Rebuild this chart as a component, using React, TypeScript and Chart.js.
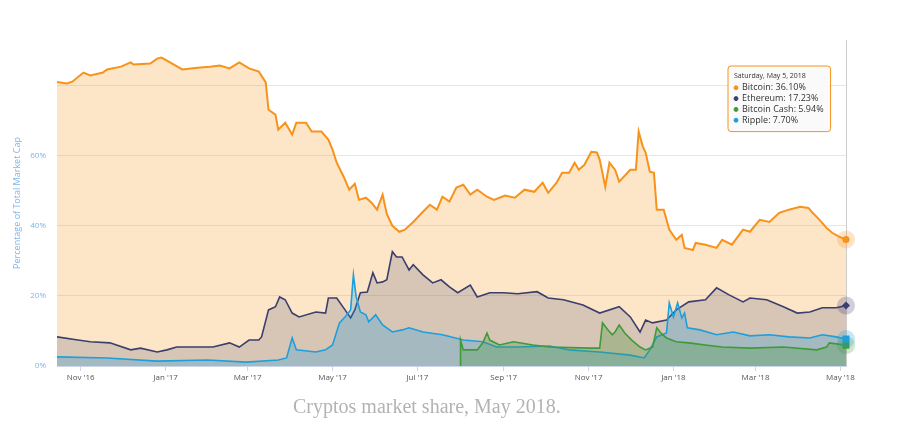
import React, { useEffect, useRef } from "react";
import { Chart, registerables, Tooltip } from "chart.js";

Chart.register(...registerables);

// ---------- data ----------
const seriesNames = ["Bitcoin", "Ethereum", "Bitcoin Cash", "Ripple"];

const btcDates = ['2016-10-15','2016-10-22','2016-10-26','2016-11-03','2016-11-08','2016-11-17','2016-11-20','2016-11-30','2016-12-07','2016-12-09','2016-12-21','2016-12-26','2016-12-29','2017-01-03','2017-01-07','2017-01-13','2017-01-24','2017-02-02','2017-02-09','2017-02-16','2017-02-23','2017-03-02','2017-03-09','2017-03-14','2017-03-16','2017-03-21','2017-03-23','2017-03-28','2017-04-02','2017-04-05','2017-04-12','2017-04-16','2017-04-23','2017-04-28','2017-05-01','2017-05-04','2017-05-09','2017-05-13','2017-05-17','2017-05-20','2017-05-25','2017-05-29','2017-06-02','2017-06-06','2017-06-09','2017-06-13','2017-06-18','2017-06-22','2017-06-28','2017-07-05','2017-07-10','2017-07-15','2017-07-19','2017-07-24','2017-07-29','2017-08-03','2017-08-08','2017-08-13','2017-08-20','2017-08-25','2017-09-02','2017-09-09','2017-09-16','2017-09-23','2017-09-29','2017-10-03','2017-10-09','2017-10-13','2017-10-18','2017-10-22','2017-10-25','2017-10-29','2017-11-03','2017-11-07','2017-11-09','2017-11-13','2017-11-16','2017-11-20','2017-11-23','2017-12-01','2017-12-05','2017-12-07','2017-12-10','2017-12-12','2017-12-15','2017-12-18','2017-12-20','2017-12-25','2017-12-29','2018-01-03','2018-01-07','2018-01-09','2018-01-15','2018-01-17','2018-01-24','2018-02-01','2018-02-05','2018-02-12','2018-02-20','2018-02-25','2018-03-04','2018-03-11','2018-03-18','2018-03-25','2018-04-02','2018-04-08','2018-04-11','2018-04-16','2018-04-21','2018-04-25','2018-04-30','2018-05-05'];
const btcShare = [81.0,80.6,81.1,83.7,82.9,83.7,84.6,85.4,86.6,86.0,86.3,87.7,88.0,86.9,86.0,84.6,85.1,85.4,85.7,84.9,86.6,84.9,84.0,80.9,73.1,71.7,67.4,69.4,66.0,69.4,69.4,66.9,66.9,64.6,61.7,58.0,54.0,50.3,52.0,47.4,48.0,46.6,44.6,48.9,43.4,40.0,38.3,38.9,41.1,44.0,46.0,44.6,48.3,46.9,50.9,51.7,48.9,50.3,48.3,47.4,48.6,48.0,50.3,49.7,52.3,49.4,52.3,55.1,55.1,58.0,56.0,57.4,61.1,60.9,58.9,51.1,58.0,56.0,52.6,56.0,56.0,66.9,62.6,60.9,55.4,55.1,44.6,44.6,38.9,36.0,37.4,33.7,33.1,35.1,34.6,33.7,36.0,34.6,38.9,38.3,41.7,41.1,43.7,44.6,45.4,45.1,43.7,41.7,39.4,38.0,36.9,36.10];

const ethDates = ['2016-10-15','2016-10-30','2016-11-08','2016-11-22','2016-12-07','2016-12-14','2016-12-26','2017-01-02','2017-01-09','2017-01-18','2017-02-04','2017-02-16','2017-02-23','2017-03-02','2017-03-09','2017-03-11','2017-03-16','2017-03-21','2017-03-24','2017-03-28','2017-04-02','2017-04-07','2017-04-19','2017-04-26','2017-04-28','2017-05-04','2017-05-10','2017-05-14','2017-05-17','2017-05-21','2017-05-26','2017-05-30','2017-06-02','2017-06-06','2017-06-09','2017-06-13','2017-06-16','2017-06-20','2017-06-25','2017-06-28','2017-07-05','2017-07-12','2017-07-18','2017-07-24','2017-07-30','2017-08-08','2017-08-13','2017-08-22','2017-09-01','2017-09-11','2017-09-25','2017-10-03','2017-10-14','2017-10-28','2017-11-09','2017-11-23','2017-12-01','2017-12-08','2017-12-12','2017-12-17','2017-12-27','2018-01-03','2018-01-12','2018-01-24','2018-02-01','2018-02-10','2018-02-20','2018-02-25','2018-03-09','2018-03-21','2018-03-31','2018-04-09','2018-04-18','2018-04-28','2018-05-05'];
const ethShare = [8.3,7.4,6.9,6.6,4.6,5.1,4.0,4.6,5.4,5.4,5.4,6.6,5.4,7.4,7.4,8.3,16.0,16.9,19.7,18.9,15.1,14.0,15.4,15.1,19.4,19.4,16.0,13.7,16.0,20.9,21.1,26.6,23.7,24.0,24.6,32.6,31.1,31.1,27.4,28.9,26.0,23.7,24.6,22.6,20.9,23.1,19.7,20.9,20.9,20.6,21.2,19.4,18.9,17.4,15.1,16.9,14.0,9.7,13.1,12.3,13.1,16.0,18.3,18.9,22.3,20.3,18.3,19.4,18.9,16.9,15.1,15.4,16.6,16.6,17.23];

const bchDates = ['2017-08-01','2017-08-01','2017-08-03','2017-08-13','2017-08-17','2017-08-20','2017-08-22','2017-08-29','2017-09-08','2017-09-22','2017-10-04','2017-11-02','2017-11-09','2017-11-11','2017-11-15','2017-11-18','2017-11-20','2017-11-23','2017-11-27','2017-12-02','2017-12-08','2017-12-12','2017-12-17','2017-12-20','2017-12-23','2017-12-27','2018-01-03','2018-01-12','2018-01-24','2018-02-05','2018-02-25','2018-03-21','2018-04-14','2018-04-21','2018-04-23','2018-05-05'];
const bchShare = [0,7.4,4.6,4.6,6.6,9.4,7.4,6.0,6.9,6.0,5.4,5.1,5.1,12.3,10.3,8.9,9.7,11.7,9.4,7.4,5.4,4.6,5.4,10.9,9.4,8.0,6.9,6.6,6.0,5.4,5.1,5.4,4.6,5.4,6.6,5.94];

const xrpDates = ['2016-10-15','2016-11-20','2016-12-26','2017-01-31','2017-02-28','2017-03-23','2017-03-29','2017-04-02','2017-04-05','2017-04-19','2017-04-26','2017-05-01','2017-05-06','2017-05-10','2017-05-14','2017-05-16','2017-05-18','2017-05-21','2017-05-25','2017-05-27','2017-06-01','2017-06-06','2017-06-13','2017-06-20','2017-06-25','2017-07-05','2017-07-19','2017-08-03','2017-08-17','2017-08-27','2017-09-11','2017-10-04','2017-10-18','2017-11-09','2017-12-01','2017-12-11','2017-12-15','2017-12-20','2017-12-27','2017-12-29','2018-01-01','2018-01-04','2018-01-07','2018-01-09','2018-01-11','2018-01-20','2018-02-01','2018-02-13','2018-02-25','2018-03-11','2018-03-25','2018-04-09','2018-04-18','2018-04-28','2018-05-05'];
const xrpShare = [2.6,2.3,1.4,1.7,1.1,1.7,2.3,8.0,4.6,4.0,4.6,6.0,12.3,14.0,16.0,26.0,19.7,15.4,14.6,12.6,14.6,11.7,9.7,10.3,10.9,9.7,8.9,7.4,6.9,5.4,5.4,5.7,4.6,4.0,3.1,2.3,4.6,8.3,9.4,18.0,14.0,18.0,13.7,15.1,10.9,10.3,8.9,9.7,8.6,8.9,8.3,8.0,8.9,8.3,7.70];

const xTickDates = ['2016-11-01','2017-01-01','2017-03-01','2017-05-01','2017-07-01','2017-09-01','2017-11-01','2018-01-01','2018-03-01','2018-05-01'];
const xTickLabels = ["Nov '16","Jan '17","Mar '17","May '17","Jul '17","Sep '17","Nov '17","Jan '18","Mar '18","May '18"];
const yTickValues = [0, 20, 40, 60, 80];
const yTickLabels = ["0%", "20%", "40%", "60%", ""];

const caption = "Cryptos market share, May 2018.";
const yTitle = "Percentage of Total Market Cap";

// ---------- helpers ----------
const EPOCH = Date.UTC(2016, 10, 1);
const toDay = (s: string) => (Date.parse(s + "T00:00:00Z") - EPOCH) / 86400000;
const fmtDate = (s: string) =>
  new Date(s + "T00:00:00Z").toLocaleDateString("en-US", {
    weekday: "long", month: "short", day: "numeric", year: "numeric", timeZone: "UTC",
  });

const build = (dates: string[], vals: number[]) =>
  dates.map((d, i) => ({ x: toDay(d), y: vals[i], date: d }));

const styles = [
  { line: "#f7931a", fill: "rgba(247,147,26,0.24)", halo: "rgba(247,147,26,0.25)", marker: "circle", width: 2, order: 4 },
  { line: "#3b3f6e", fill: "rgba(59,63,110,0.20)", halo: "rgba(59,63,110,0.25)", marker: "diamond", width: 1.6, order: 3 },
  { line: "#3f9a3a", fill: "rgba(70,150,60,0.30)", halo: "rgba(70,150,60,0.25)", marker: "square", width: 1.6, order: 1 },
  { line: "#1e9fdc", fill: "rgba(30,158,222,0.27)", halo: "rgba(30,158,222,0.25)", marker: "square", width: 1.6, order: 2 },
];

(Tooltip as any).positioners.fixedBox = function () {
  return { x: 731, y: 66 };
};

const markerPlugin = {
  id: "markers",
  beforeDatasetsDraw(chart: any) {
    const meta = chart.getDatasetMeta(0);
    const el = meta.data[meta.data.length - 1];
    if (!el) return;
    const { ctx, chartArea } = chart;
    ctx.save();
    ctx.strokeStyle = "#cccccc";
    ctx.lineWidth = 1;
    ctx.beginPath();
    ctx.moveTo(Math.round(el.x) + 0.5, chartArea.top);
    ctx.lineTo(Math.round(el.x) + 0.5, chartArea.bottom);
    ctx.stroke();
    ctx.restore();
  },
  afterDatasetsDraw(chart: any) {
    const { ctx } = chart;
    chart.data.datasets.forEach((_ds: any, i: number) => {
      const meta = chart.getDatasetMeta(i);
      const el = meta.data[meta.data.length - 1];
      if (!el) return;
      const s = styles[i];
      const { x, y } = el;
      ctx.save();
      ctx.fillStyle = s.halo;
      ctx.beginPath();
      ctx.arc(x, y, 9, 0, Math.PI * 2);
      ctx.fill();
      ctx.fillStyle = s.line;
      ctx.beginPath();
      if (s.marker === "circle") {
        ctx.arc(x, y, 3.5, 0, Math.PI * 2);
      } else if (s.marker === "diamond") {
        ctx.moveTo(x, y - 4);
        ctx.lineTo(x + 4, y);
        ctx.lineTo(x, y + 4);
        ctx.lineTo(x - 4, y);
        ctx.closePath();
      } else {
        ctx.rect(x - 3.5, y - 3.5, 7, 7);
      }
      ctx.fill();
      ctx.restore();
    });
  },
};

export default function App() {
  const ref = useRef<HTMLCanvasElement | null>(null);

  useEffect(() => {
    if (!ref.current) return;
    const seriesData = [
      build(btcDates, btcShare),
      build(ethDates, ethShare),
      build(bchDates, bchShare),
      build(xrpDates, xrpShare),
    ];
    const xMin = toDay(btcDates[0]);
    const xMax = toDay(btcDates[btcDates.length - 1]);

    const chart = new Chart(ref.current, {
      type: "line",
      data: {
        datasets: seriesData.map((d, i) => ({
          label: seriesNames[i],
          data: d,
          borderColor: styles[i].line,
          backgroundColor: styles[i].fill,
          borderWidth: styles[i].width,
          fill: "origin",
          pointRadius: 0,
          pointHoverRadius: 0,
          tension: 0,
          order: styles[i].order,
        })),
      },
      options: {
        animation: false,
        responsive: false,
        events: [],
        layout: { padding: { left: 0, top: 40, right: 54, bottom: 0 } },
        scales: {
          x: {
            type: "linear",
            min: xMin,
            max: xMax,
            afterBuildTicks: (scale: any) => {
              scale.ticks = xTickDates.map((d) => ({ value: toDay(d) }));
            },
            afterFit: (scale: any) => {
              scale.height = 78;
            },
            grid: {
              drawOnChartArea: false,
              drawTicks: true,
              tickLength: 5,
              color: "#ccd6eb",
            },
            border: { display: true, color: "#ccd6eb" },
            ticks: {
              autoSkip: false,
              maxRotation: 0,
              padding: 2,
              color: "#555555",
              font: { family: "'Open Sans'", size: 8 },
              callback: (_v: any, i: number) => xTickLabels[i],
            },
          },
          y: {
            min: 0,
            max: 93,
            afterBuildTicks: (scale: any) => {
              scale.ticks = yTickValues.map((v) => ({ value: v }));
            },
            afterFit: (scale: any) => {
              scale.width = 57;
            },
            grid: { color: "#e6e6e6", drawTicks: false },
            border: { display: false },
            ticks: {
              padding: 11,
              color: "#7cb5ec",
              font: { family: "'Open Sans'", size: 8 },
              callback: (_v: any, i: number) => yTickLabels[i],
            },
            title: {
              display: true,
              text: yTitle,
              color: "#7cb5ec",
              font: { family: "'Open Sans'", size: 9 },
              padding: { top: 12, bottom: 0 },
            },
          },
        },
        plugins: {
          legend: { display: false },
          tooltip: {
            enabled: true,
            position: "fixedBox" as any,
            xAlign: "left",
            yAlign: "top",
            caretSize: 0,
            caretPadding: 0,
            cornerRadius: 3,
            backgroundColor: "rgba(250,250,250,0.92)",
            borderColor: "#f7931a",
            borderWidth: 1,
            titleColor: "#333333",
            bodyColor: "#333333",
            titleFont: { family: "'Open Sans'", size: 7, weight: "normal" },
            bodyFont: { family: "'Open Sans'", size: 9 },
            titleMarginBottom: 2,
            bodySpacing: 0,
            padding: { top: 6, left: 6, right: 7, bottom: 6 },
            usePointStyle: true,
            boxWidth: 4,
            boxHeight: 4,
            boxPadding: 2,
            itemSort: (a: any, b: any) => a.datasetIndex - b.datasetIndex,
            callbacks: {
              title: (items: any[]) => (items.length ? fmtDate(items[0].raw.date) : ""),
              label: (c: any) => `${c.dataset.label}: ${c.parsed.y.toFixed(2)}%`,
              labelPointStyle: () => ({ pointStyle: "circle", rotation: 0 }),
              labelColor: (c: any) => ({
                borderColor: styles[c.datasetIndex].line,
                backgroundColor: styles[c.datasetIndex].line,
                borderWidth: 0,
              }),
            },
          },
        },
      },
      plugins: [markerPlugin],
    } as any);

    chart.tooltip?.setActiveElements(
      seriesData.map((d, i) => ({ datasetIndex: i, index: d.length - 1 })),
      { x: 0, y: 0 }
    );
    chart.update();

    return () => chart.destroy();
  }, []);

  return (
    <div style={{ position: "fixed", left: 0, top: 0, width: 900, height: 444, background: "#ffffff" }}>
      <canvas ref={ref} width={900} height={444} style={{ width: 900, height: 444, display: "block" }} />
      <div
        style={{
          position: "absolute",
          left: 293,
          top: 395,
          fontFamily: "'Liberation Serif', serif",
          fontSize: 20,
          color: "#b3b3b3",
          whiteSpace: "nowrap",
        }}
      >
        {caption}
      </div>
    </div>
  );
}
